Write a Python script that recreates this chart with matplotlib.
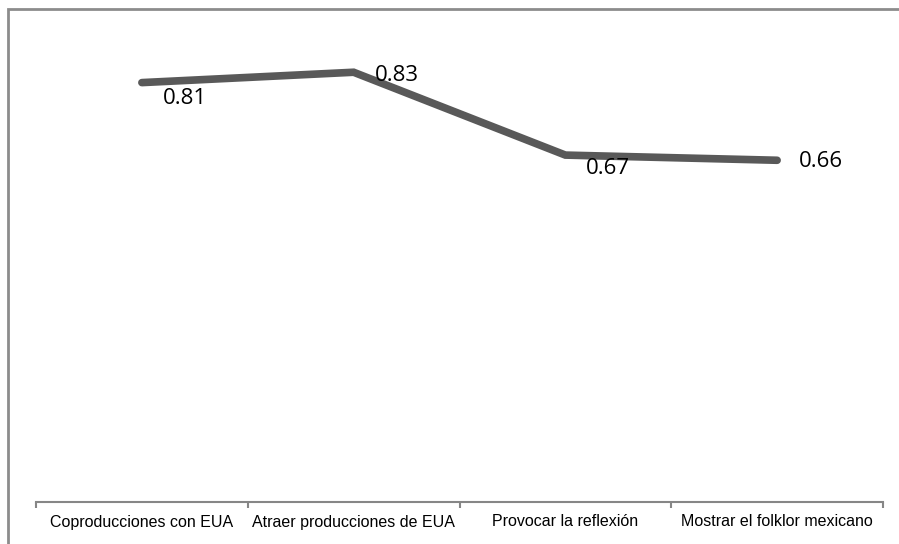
import matplotlib.pyplot as plt
from matplotlib.patches import Rectangle

categorias = ["Coproducciones con EUA", "Atraer producciones de EUA",
              "Provocar la reflexión", "Mostrar el folklor mexicano"]
valores = [0.81, 0.83, 0.67, 0.66]

W, H = 899, 544
fig = plt.figure(figsize=(W / 100, H / 100), dpi=100)

# marco exterior del grafico (solo lados izquierdo y superior quedan visibles)
fig.patches.append(Rectangle((8 / W, -0.05), 1.2, 1 - 9 / H + 0.05,
                             transform=fig.transFigure, fill=False,
                             edgecolor="#8c8c8c", linewidth=2))

ax = fig.add_axes([36 / W, 1 - 502 / H, (883 - 36) / W, (502 - 36) / H])
x = range(len(categorias))
ax.plot(x, valores, color="#595959", linewidth=5.5, solid_capstyle="round",
        solid_joinstyle="miter")

ax.set_xlim(-0.5, len(categorias) - 0.5)
ax.set_ylim(0, 0.9)

# etiquetas de datos
offsets = [(15, -11.2), (15, -2.2), (15, -9.4), (16, -0.7)]
for i, (v, off) in enumerate(zip(valores, offsets)):
    ax.annotate(f"{v:.2f}", (i, v), xytext=off, textcoords="offset points",
                ha="left", va="center", fontsize=16,
                family=["Open Sans", "DejaVu Sans"], color="#000000")

for s in ["top", "right", "left"]:
    ax.spines[s].set_visible(False)
ax.spines["bottom"].set_color("#868686")
ax.spines["bottom"].set_linewidth(1.5)
ax.set_yticks([])

ax.set_xticks([i - 0.5 for i in range(len(categorias) + 1)], minor=False)
ax.set_xticklabels([])
ax.set_xticks(list(x), minor=True)
ax.set_xticklabels(categorias, minor=True,
                   family=["Liberation Sans", "DejaVu Sans"], fontsize=11.5)
ax.tick_params(axis="x", which="major", length=4, color="#868686", width=1.5)
ax.tick_params(axis="x", which="minor", length=0, pad=9)

fig.savefig("out.png", dpi=100)
